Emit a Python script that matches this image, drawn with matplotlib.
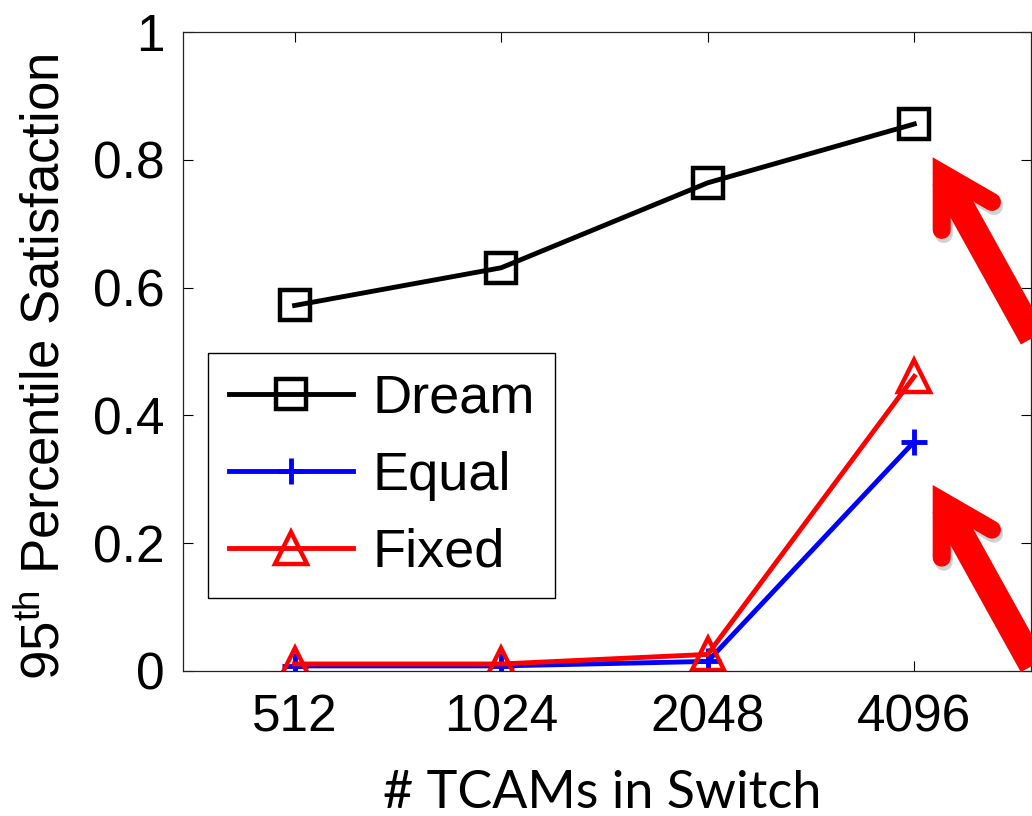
import matplotlib
matplotlib.use('Agg')
import matplotlib.pyplot as plt
from matplotlib import patheffects as pe
from matplotlib.lines import Line2D
from matplotlib.transforms import IdentityTransform

# ---- data ----
x_labels = ['512', '1024', '2048', '4096']
dream = [0.572, 0.631, 0.764, 0.856]
equal = [0.008, 0.008, 0.015, 0.359]
fixed = [0.011, 0.011, 0.026, 0.461]
y_ticks = [0, 0.2, 0.4, 0.6, 0.8, 1]
y_tick_labels = ['0', '0.2', '0.4', '0.6', '0.8', '1']

plt.rcParams['font.family'] = ['Liberation Sans', 'DejaVu Sans']
plt.rcParams['mathtext.fontset'] = 'custom'
plt.rcParams['mathtext.rm'] = 'Liberation Sans'
plt.rcParams['mathtext.it'] = 'Liberation Sans:italic'

W, H = 1032, 816
fig = plt.figure(figsize=(W / 100, H / 100), dpi=100)
ax = fig.add_axes([183 / W, 145 / H, 848 / W, 639 / H])

xs = list(range(1, len(x_labels) + 1))
ax.plot(xs, dream, color='black', lw=3.5, marker='s', ms=21, mfc='none',
        mew=3.2, label='Dream')
ax.plot(xs, equal, color='blue', lw=3.5, marker='+', ms=19, mew=3.5,
        label='Equal')
ax.plot(xs, fixed, color='red', lw=3.5, marker='^', ms=23, mfc='none',
        mew=3.2, label='Fixed')

ax.set_xlim(0.46, 4.565)
ax.set_ylim(0, 1)
ax.set_xticks(xs, x_labels)
ax.set_yticks(y_ticks, y_tick_labels)
ax.tick_params(direction='in', length=7, width=0.8, top=True, right=True,
               labelsize=37, colors='black')
ax.tick_params(axis='x', pad=16)
ax.tick_params(axis='y', pad=13)
for s in ax.spines.values():
    s.set_linewidth(0.9)
    s.set_color('#222222')

leg = ax.legend(loc='upper left',
                bbox_to_anchor=((208 - 183) / 848, (671 - 353) / 639),
                borderaxespad=0, fontsize=39, handlelength=2.29,
                handletextpad=0.36, labelspacing=0.5, borderpad=0.38,
                fancybox=False, framealpha=1, edgecolor='black')
leg.get_frame().set_linewidth(1.0)

fig.text(45 / W, 1 - 367 / H, '95$^{\\mathrm{th}}$ Percentile Satisfaction',
         rotation=90, ha='center', va='center', fontsize=38)
fig.text(602 / W, 1 - 794 / H, '# TCAMs in Switch', ha='center', va='center',
         fontsize=37.5, family=['Lato', 'DejaVu Sans'])

# ---- red call-out arrows (drawn in figure pixels, y measured from top) ----
def fp(x, y_top):
    return x, H - y_top

shadow_fx = [pe.SimpleLineShadow(offset=(1.5, -3), shadow_color='gray', alpha=0.35)]
for dy in (0.0, 327.7):
    tip = (941.7, 172.9 + dy)
    barb1 = (941.7, 172.9 + dy + 57)
    barb2 = (941.7 + 58 * 0.866, 172.9 + dy + 58 * 0.5)
    s0 = (tip[0] + 6 * 0.485, tip[1] + 6 * 0.875)
    s1 = (tip[0] + 450 * 0.485, tip[1] + 450 * 0.875)
    head_pts = [fp(*barb1), fp(*tip), fp(*barb2)]
    shaft_pts = [fp(*s0), fp(*s1)]
    for pts, lw, cap in ((shaft_pts, 20, 'butt'), (head_pts, 13, 'round')):
        xsl = [p[0] for p in pts]
        ysl = [p[1] for p in pts]
        fig.add_artist(Line2D(xsl, ysl, transform=IdentityTransform(), lw=lw,
                              color='none', solid_capstyle=cap,
                              solid_joinstyle='miter', zorder=5,
                              path_effects=shadow_fx))
    for pts, lw, cap in ((shaft_pts, 20, 'butt'), (head_pts, 13, 'round')):
        xsl = [p[0] for p in pts]
        ysl = [p[1] for p in pts]
        fig.add_artist(Line2D(xsl, ysl, transform=IdentityTransform(), lw=lw,
                              color='red', solid_capstyle=cap,
                              solid_joinstyle='miter', zorder=6))

fig.savefig('out.png', dpi=100)
